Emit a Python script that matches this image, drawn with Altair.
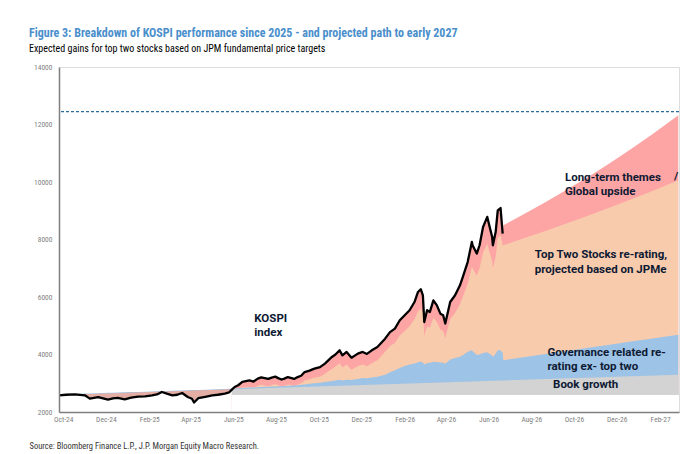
import altair as alt
import pandas as pd

# ---------------- data ----------------
BASE = 2590      # bottom of the stacked bands (starting KOSPI level)
FLOOR = 2000     # axis minimum

# early period: KOSPI below the book-growth line
early_dates = ["2024-09-25","2024-10-05","2024-10-18","2024-11-01","2024-11-08","2024-11-20",
               "2024-12-04","2024-12-11","2024-12-18","2024-12-28","2025-01-06","2025-01-16",
               "2025-01-26","2025-02-05","2025-02-12","2025-02-19","2025-02-26","2025-03-06",
               "2025-03-13","2025-03-20","2025-03-28","2025-04-03","2025-04-06","2025-04-12",
               "2025-04-22","2025-05-02","2025-05-10","2025-05-20","2025-05-26","2025-05-30"]
early_kospi = [2580,2600,2615,2580,2465,2520,2430,2475,2490,2440,2500,2535,2545,2580,2610,
               2695,2640,2580,2600,2660,2520,2460,2330,2480,2530,2580,2600,2640,2680,2780]
early_gov = [2610,2618,2628,2640,2645,2655,2666,2672,2678,2686,2692,2700,2708,2716,2722,
             2728,2734,2740,2745,2751,2758,2762,2765,2769,2777,2785,2792,2800,2805,2808]

# historical period after the crossover
hist_dates = ["2025-05-30","2025-06-03","2025-06-08","2025-06-14","2025-06-24","2025-06-30",
              "2025-07-06","2025-07-11","2025-07-16","2025-07-21","2025-07-26","2025-07-31",
              "2025-08-05","2025-08-09","2025-08-13","2025-08-18","2025-08-22","2025-08-27",
              "2025-09-01","2025-09-06","2025-09-11","2025-09-18","2025-09-25","2025-10-03",
              "2025-10-10","2025-10-20","2025-10-25","2025-10-31","2025-11-04","2025-11-10",
              "2025-11-17","2025-11-26","2025-12-03","2025-12-09","2025-12-16","2025-12-24",
              "2026-01-04","2026-01-11","2026-01-18","2026-01-25","2026-02-01","2026-02-08",
              "2026-02-15","2026-02-20","2026-02-24","2026-02-27","2026-03-01","2026-03-05",
              "2026-03-09","2026-03-14","2026-03-19","2026-03-24","2026-03-28","2026-03-31",
              "2026-04-07","2026-04-14","2026-04-21","2026-04-25","2026-05-02","2026-05-08",
              "2026-05-09","2026-05-15","2026-05-19","2026-05-24","2026-05-30","2026-06-03",
              "2026-06-06","2026-06-07","2026-06-11","2026-06-14","2026-06-18","2026-06-21"]
hist_kospi = [2780,2870,2930,3045,3100,3060,3160,3205,3180,3150,
              3195,3230,3170,3130,3160,3215,3190,3150,3215,3260,
              3390,3440,3510,3560,3685,3915,4000,4145,3970,4090,
              3890,4030,4090,4020,4145,4260,
              4550,4780,4900,5190,5365,5540,5825,6175,6270,6060,
              5130,5540,5480,5885,5710,5420,5365,5075,5825,6060,
              6405,6695,7215,7915,7800,7510,7800,8435,8785,8380,
              8085,7800,8260,9015,9095,8205]
hist_top2 = [2780,2800,2830,2860,2870,2840,2910,2950,2925,2900,
             2940,2970,2920,2880,2910,2960,2935,2900,2960,3000,
             3100,3140,3190,3230,3330,3500,3580,3700,3550,3650,
             3470,3600,3650,3590,3700,3800,
             4100,4300,4400,4660,4820,4980,5230,5500,5600,5450,
             4650,4980,4930,5280,5130,4870,4820,4570,5230,5440,
             5750,6000,6460,7050,7000,6750,7000,7550,7850,7500,
             7250,7000,7400,8050,8150,7800]
hist_gov = [2795,2815,2825,2835,2850,2855,2865,2870,2875,2880,
            2885,2890,2895,2900,2905,2910,2915,2920,2930,2945,
            2960,2980,3000,3020,3040,3080,3100,3120,3100,3120,
            3110,3150,3180,3170,3200,3230,
            3300,3380,3450,3530,3600,3650,3690,3730,3750,3720,
            3650,3700,3710,3750,3740,3720,3710,3680,3830,3880,
            3920,3970,4100,4145,4120,3980,4000,4050,4080,4010,
            3970,3910,4030,4145,4150,4060]

# projected path
proj_dates = ["2026-06-22","2026-07-21","2026-08-21","2026-09-21","2026-10-21",
              "2026-11-21","2026-12-21","2027-01-21","2027-02-27"]
proj_gov = [3800,3906,4016,4126,4233,4343,4449,4559,4690]
proj_top2 = [7800,8041,8298,8562,8827,9109,9390,9689,10060]
proj_themes = [8495,8881,9299,9735,10177,10655,11140,11664,12320]

# book growth (straight line)
book_dates = ["2024-09-25","2025-05-30","2027-02-27"]
book_vals = [2590,2788,3300]

target_level = 12450

ann_text = ["KOSPI","index","Long-term themes","Global upside","/",
            "Top Two Stocks re-rating,","projected based on JPMe",
            "Governance related re-","rating ex- top two","Book growth"]
ann_dates = ["2025-07-01","2025-07-01","2026-09-18","2026-09-18","2027-02-21",
             "2026-08-06","2026-08-06","2026-08-24","2026-08-24","2026-09-01"]
ann_vals = [5249,4748,10153,9652,10163,7450,6929,4066,3565,2929]

x_ticks = [(2024,10),(2024,12),(2025,2),(2025,4),(2025,6),(2025,8),(2025,10),(2025,12),
           (2026,2),(2026,4),(2026,6),(2026,8),(2026,10),(2026,12),(2027,2)]
y_ticks = [2000,4000,6000,8000,10000,12000,14000]

TITLE = "Figure 3: Breakdown of KOSPI performance since 2025 - and projected path to early 2027"
SUBTITLE = "Expected gains for top two stocks based on JPM fundamental price targets"
SOURCE = "Source: Bloomberg Finance L.P., J.P. Morgan Equity Macro Research."

# ---------------- tables ----------------
df_up = pd.DataFrame({
    "date": hist_dates + proj_dates,
    "top": hist_kospi + proj_themes,
    "top2": hist_top2 + proj_top2,
})
df_gov = pd.DataFrame({
    "date": early_dates + hist_dates[1:] + proj_dates,
    "gov": early_gov + hist_gov[1:] + proj_gov,
})
df_early = pd.DataFrame({"date": early_dates, "kospi": early_kospi})
df_kospi = pd.DataFrame({"date": early_dates + hist_dates[1:],
                         "kospi": early_kospi + hist_kospi[1:]})
df_book_early = pd.DataFrame({"date": book_dates[:2], "book": book_vals[:2]})
df_book = pd.DataFrame({"date": book_dates[1:], "book": book_vals[1:]})
df_ann = pd.DataFrame({"date": ann_dates, "v": ann_vals, "t": ann_text})
df_target = pd.DataFrame({"v": [target_level]})

NARROW = "Liberation Sans Narrow, Arial Narrow, Roboto Condensed, Liberation Sans, sans-serif"
ANN_FONT = "Roboto, Lato, sans-serif"
NAVY = "#0E1A33"
AXGRAY = "#7F7F7F"

xaxis = alt.Axis(
    values=[alt.DateTime(year=y, month=m, date=1, utc=True) for y, m in x_ticks],
    labelExpr="utcFormat(datum.value, '%b-%y')", ticks=False, grid=False,
    domainColor=AXGRAY, domainWidth=1.5, labelColor=AXGRAY, labelFont=NARROW,
    labelFontSize=7.5, labelPadding=3, labelFlush=False, zindex=1,
    title=SOURCE, titleAnchor="start", titleAlign="left", titleX=-30, titleY=33,
    titleBaseline="middle", titleFont=NARROW, titleFontSize=8.5,
    titleFontWeight="normal", titleColor="#333333",
)
yaxis = alt.Axis(
    values=y_ticks, ticks=False, grid=False, domainColor=AXGRAY, domainWidth=1.5,
    labelColor=AXGRAY, labelFont=NARROW, labelFontSize=7.5, labelPadding=7,
    title=None, zindex=1, format="d",
)
xscale = alt.Scale(type="utc", domain=[alt.DateTime(year=2024, month=9, date=25, utc=True),
                                       alt.DateTime(year=2027, month=2, date=28, utc=True)])
yscale = alt.Scale(domain=[FLOOR, 14000], nice=False, zero=False)


def X():
    return alt.X("date:T", scale=xscale, axis=xaxis)


def Y(field):
    return alt.Y(f"{field}:Q", scale=yscale, axis=yaxis)


red = alt.Chart(df_up).mark_area(color="#FDA4A4").encode(x=X(), y=Y("top"), y2=alt.datum(BASE))
peach = alt.Chart(df_up).mark_area(color="#F8CBAD").encode(x=X(), y=Y("top2"), y2=alt.datum(BASE))
blue = alt.Chart(df_gov).mark_area(color="#9DC3E6").encode(x=X(), y=Y("gov"), y2=alt.datum(BASE))
neg = alt.Chart(df_book_early).mark_area(color="#E4AEA5").encode(x=X(), y=Y("book"), y2=alt.datum(FLOOR))
mask = alt.Chart(df_early).mark_area(color="white").encode(x=X(), y=Y("kospi"), y2=alt.datum(FLOOR))
gray = alt.Chart(df_book).mark_area(color="#D3D3D3").encode(x=X(), y=Y("book"), y2=alt.datum(BASE))
target = alt.Chart(df_target).mark_rule(color="#2B6C9C", strokeDash=[3, 2], strokeWidth=1.2).encode(y=Y("v"))
line = alt.Chart(df_kospi).mark_line(color="black", strokeWidth=2.3, strokeJoin="round").encode(
    x=X(), y=Y("kospi"))
ann = alt.Chart(df_ann).mark_text(align="left", baseline="middle", font=ANN_FONT,
                                  fontWeight="bold", fontSize=11.5, color=NAVY).encode(
    x=X(), y=Y("v"), text="t:N")

chart = alt.layer(red, peach, blue, neg, mask, gray, target, line, ann).properties(
    width=620, height=345,
    autosize=alt.AutoSizeParams(type="none"),
    padding={"left": 51, "top": 59, "right": 8, "bottom": 40},
    title=alt.TitleParams(
        text=TITLE, subtitle=SUBTITLE, anchor="start", frame="group", dx=-30, offset=8,
        font=NARROW, fontSize=12, fontWeight="bold", color="#4A8FCC",
        subtitleFont=NARROW, subtitleFontSize=10, subtitleColor="#000000", subtitlePadding=4,
    ),
).configure_view(stroke=None).configure(background="white")

chart.save("out.html", embed_options={"renderer": "svg", "actions": False})
